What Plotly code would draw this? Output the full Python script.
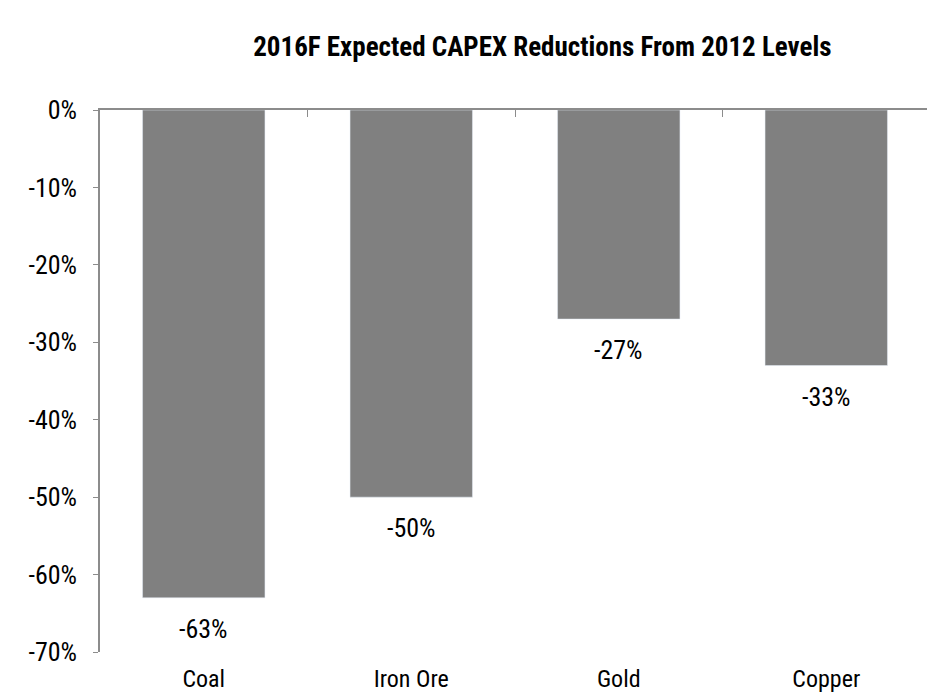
import plotly.graph_objects as go

categories = ["Coal", "Iron Ore", "Gold", "Copper"]
values = [-63, -50, -27, -33]
y_ticks = [0, -10, -20, -30, -40, -50, -60, -70]
y_tick_labels = ["0%", "-10%", "-20%", "-30%", "-40%", "-50%", "-60%", "-70%"]

FONT = "Liberation Sans Narrow, Arial Narrow, Roboto Condensed, sans-serif"
AXIS_GREY = "#8c8c8c"

fig = go.Figure()

fig.add_trace(go.Bar(
    x=categories, y=values,
    marker_color="#808080", width=0.59,
    hoverinfo="x+y",
))

# invisible trace so the top axis (boundary ticks) is drawn
fig.add_trace(go.Scatter(
    x=categories, y=[None] * len(categories), xaxis="x2",
    mode="markers", showlegend=False, hoverinfo="skip",
))

# value labels under each bar
for cat, val in zip(categories, values):
    fig.add_annotation(
        x=cat, y=val, text=f"{val}%", showarrow=False,
        yanchor="middle", yshift=-31,
        font=dict(family=FONT, size=26, color="#000000"),
    )

# page body has an 8px default margin, so margins are offset by it
fig.update_layout(
    width=935, height=697,
    margin=dict(l=92, r=13, t=102, b=53),
    paper_bgcolor="white", plot_bgcolor="white",
    showlegend=False,
    font=dict(family=FONT, size=24, color="#000000"),
    title=dict(
        text="<b>2016F Expected CAPEX Reductions From 2012 Levels</b>",
        x=0.533, xref="paper", xanchor="center",
        y=1 - 39 / 697, yref="container", yanchor="middle",
        font=dict(family=FONT, size=27, color="#000000"),
    ),
    xaxis=dict(
        type="category", side="bottom", automargin=False,
        showline=False, ticks="", showgrid=False, zeroline=False,
        ticklabelstandoff=10,
        tickfont=dict(family=FONT, size=24),
    ),
    xaxis2=dict(
        type="category", overlaying="x", matches="x", side="top",
        automargin=False,
        showline=True, linecolor=AXIS_GREY, linewidth=1.5,
        ticks="inside", tickson="boundaries", ticklen=7, tickcolor=AXIS_GREY,
        showticklabels=False, showgrid=False, zeroline=False,
    ),
    yaxis=dict(
        range=[-70, 0], tickvals=y_ticks, ticktext=y_tick_labels,
        automargin=False,
        showline=True, linecolor=AXIS_GREY, linewidth=1.5,
        ticks="outside", ticklen=5, tickcolor=AXIS_GREY,
        ticklabelstandoff=11,
        showgrid=False, zeroline=False,
        tickfont=dict(family=FONT, size=26),
    ),
)

fig.write_html("out.html")
